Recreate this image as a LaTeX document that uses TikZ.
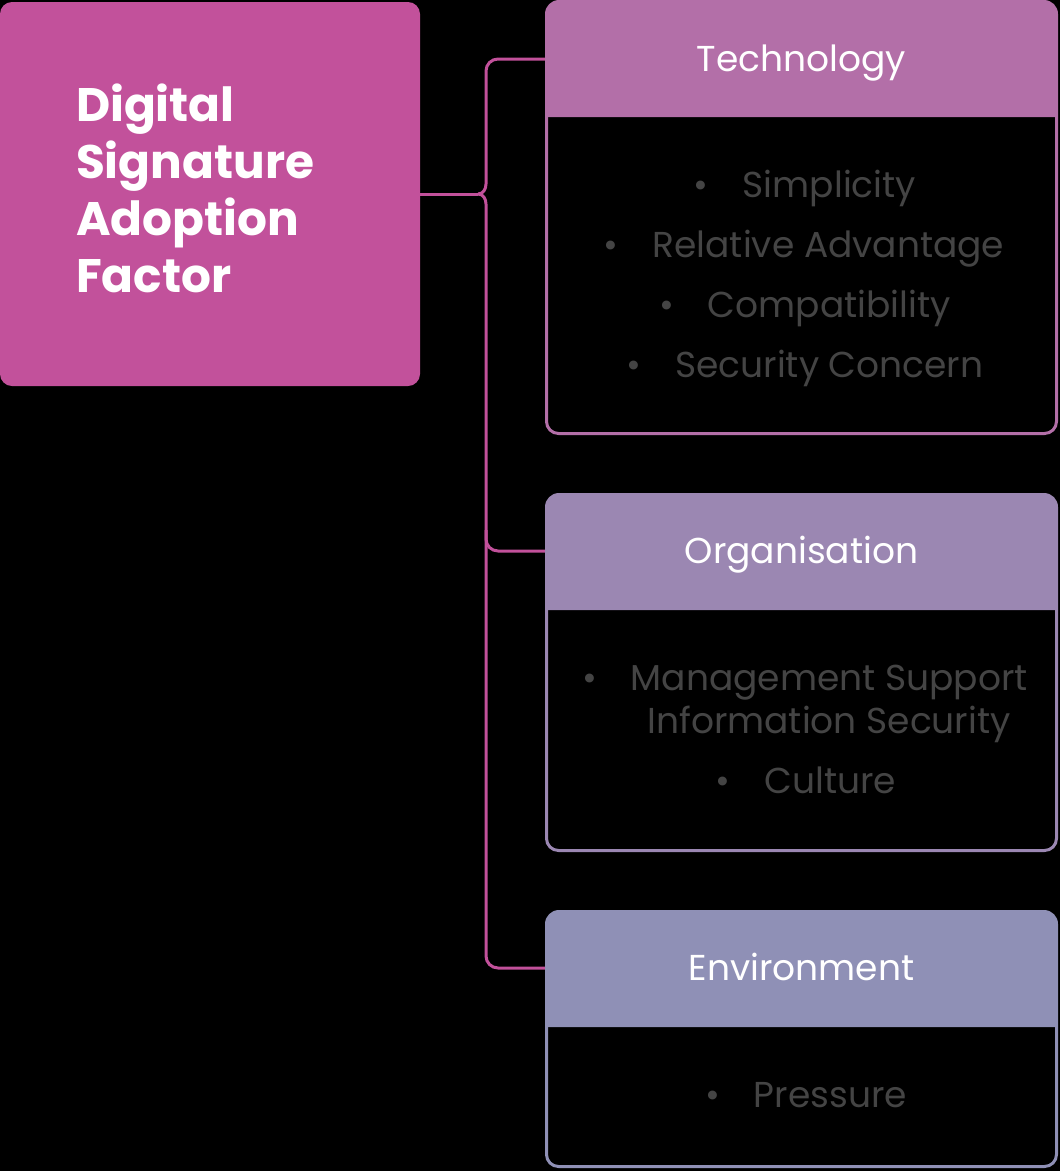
\documentclass[tikz,border=0pt]{standalone}
\usepackage{fontspec}
\setmainfont{Poppins}
\usetikzlibrary{positioning}
\definecolor{factorpink}{HTML}{C2519B}
\definecolor{techcol}{HTML}{B36FA8}
\definecolor{orgcol}{HTML}{9B87B2}
\definecolor{envcol}{HTML}{8F90B6}
\definecolor{itemgray}{HTML}{444444}
\tikzset{
    factorbox/.style={fill=factorpink, rounded corners=12pt, minimum width=420pt, minimum height=384pt, inner sep=0pt},
    titletxt/.style={inner sep=0pt, text width=268pt, align=left, text=white,
        font=\fontsize{47}{57}\selectfont\bfseries},
    headtxt/.style={minimum width=513pt, minimum height=117pt, inner sep=0pt, text=white,
        text height=25pt, text depth=0pt, font=\fontsize{36}{42}\selectfont},
    item/.style={anchor=base, text=itemgray, font=\fontsize{36}{42}\selectfont},
    link/.style={draw=factorpink, line width=3pt},
}

\begin{document}
\begin{tikzpicture}[x=1pt,y=1pt]
\fill[black] (0,0) rectangle (1060,-1171);
% main factor
\node[factorbox] (factor) at (210,-194) {};
\node[titletxt] (title) at (210,-188) {Digital Signature Adoption Factor};
% cards
\fill[techcol, rounded corners=14pt] (545,-117) -- (545,0) -- (1058,0) -- (1058,-117);
\draw[techcol, line width=3pt, rounded corners=12pt] (546.5,-117) -- (546.5,-433.5) -- (1056.5,-433.5) -- (1056.5,-117);
\fill[orgcol, rounded corners=14pt] (545,-610) -- (545,-493) -- (1058,-493) -- (1058,-610);
\draw[orgcol, line width=3pt, rounded corners=12pt] (546.5,-610) -- (546.5,-850.5) -- (1056.5,-850.5) -- (1056.5,-610);
\fill[envcol, rounded corners=14pt] (545,-1027) -- (545,-910) -- (1058,-910) -- (1058,-1027);
\draw[envcol, line width=3pt, rounded corners=12pt] (546.5,-1027) -- (546.5,-1166.5) -- (1056.5,-1166.5) -- (1056.5,-1027);
\node[headtxt] (tech) at (801.5,-59) {Technology};
\node[headtxt] (org) at (801.5,-551) {Organisation};
\node[headtxt] (env) at (801.5,-968) {Environment};
% items
\node[item] (simp) at (805,-197) {\textbullet\hspace{34pt}Simplicity};
\node[item] (reladv) at (804,-257) {\textbullet\hspace{34pt}Relative Advantage};
\node[item] (compat) at (805,-317) {\textbullet\hspace{34pt}Compatibility};
\node[item] (secur) at (805,-377) {\textbullet\hspace{34pt}Security Concern};
\node[item] (mgmt) at (805,-690) {\textbullet\hspace{34pt}Management Support};
\node[item] (infosec) at (829,-733) {Information Security};
\node[item] (cult) at (806,-793) {\textbullet\hspace{34pt}Culture};
\node[item] (press) at (806,-1107) {\textbullet\hspace{34pt}Pressure};
% links
\coordinate[right=58pt of factor.east] (cusp);
\draw[link] (factor.east) -- (cusp);
\draw[link] (cusp) to[out=0,in=-90] (486,-184);
\draw[link] (cusp) to[out=0,in=90] (486,-204);
\draw[link, rounded corners=12pt] (486,-184) |- (tech.west);
\draw[link, rounded corners=12pt] (486,-204) |- (env.west);
\draw[link, rounded corners=12pt] (486,-530) |- (org.west);
\end{tikzpicture}
\end{document}
